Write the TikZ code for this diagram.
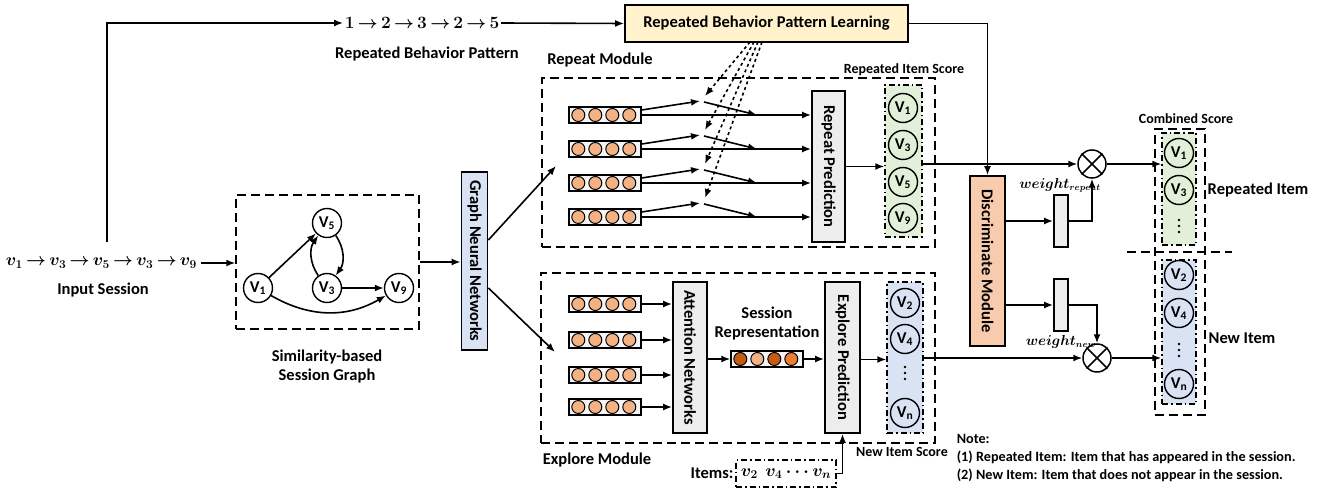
\documentclass[tikz,border=0pt]{standalone}
\usepackage{fontspec}
\setmainfont{Carlito}
\usepackage{amsmath}
\usepackage{graphicx}
\usetikzlibrary{arrows.meta}
\usetikzlibrary{calc}
\usetikzlibrary{positioning}

\definecolor{learnfill}{HTML}{FFF2CC}
\definecolor{gnnfill}{HTML}{DAE3F3}
\definecolor{discfill}{HTML}{F8CBAD}
\definecolor{predfill}{HTML}{EDEDED}
\definecolor{repfill}{HTML}{E2F0D9}
\definecolor{newfill}{HTML}{DAE3F3}
\definecolor{embfill}{HTML}{F4B183}
\definecolor{embdark}{HTML}{C55A11}
\definecolor{embmid}{HTML}{ED7D31}

% one embedding bar: name, x, y
\newcommand{\embbar}[3]{
  \node[embbox] (#1) at (#2,#3) {};
  \foreach \k in {1,...,4}{
    \node[embdot] (#1-\k) at ($(#1.west)+(17*\k-7,0)$) {};
  }
}
% vertical ellipsis inside a score column: name, x, y
\newcommand{\coldots}[3]{
  \foreach \k in {-1,0,1}{
    \node[dotmark] (#1-\k) at (#2,#3+6*\k) {};
  }
}
\newcommand{\vi}[1]{V\textsubscript{#1}}
\newcommand{\sto}{\,{\rightarrow}\,}

\begin{document}
\begin{tikzpicture}[x=1pt,y=-1pt,>={Latex[length=9pt,width=7pt]},
  line width=1.6pt,
  every node/.style={font=\bfseries\boldmath\fontsize{16.5}{19}\selectfont},
  small/.style={font=\bfseries\fontsize{14}{16}\selectfont},
  block/.style={draw, line width=1.8pt, inner sep=0pt},
  module/.style={draw, dash pattern=on 9pt off 5pt, line width=1.5pt, inner sep=0pt},
  column/.style={draw, dash pattern=on 6pt off 3pt on 1.5pt off 3pt, line width=1.5pt, inner sep=0pt},
  item/.style={circle, draw, line width=1.4pt, minimum size=29pt, inner sep=0pt},
  mul/.style={circle, draw, line width=1.5pt, minimum size=28pt, inner sep=0pt},
  dotmark/.style={circle, fill, minimum size=2.6pt, inner sep=0pt},
  embbox/.style={draw, fill=gray!8, line width=1.4pt, minimum width=72, minimum height=16, inner sep=0pt},
  embdot/.style={circle, draw, line width=1pt, fill=embfill, minimum size=13pt, inner sep=0pt}]

\useasboundingbox (0,0) rectangle (1317,489);

% input session and repeated pattern
\node[anchor=west, inner sep=0pt] (sess) at (5,263) {$v_1\sto v_3\sto v_5\sto v_3\sto v_9$};
\node (sesslbl) at (103,290) {Input Session};
\node[anchor=west, inner sep=1pt] (pat) at (343,23) {$1\sto 2\sto 3\sto 2\sto 5$};
\node (patlbl) at (427,54) {Repeated Behavior Pattern};
\node[block, fill=learnfill, minimum width=283, minimum height=37] (learn) at (766.5,23.5) {Repeated Behavior Pattern Learning};
\coordinate (sesstop) at (107,242);

\draw[->] (sesstop) |- (pat.west);
\draw[->] (pat.east) -- (learn.west);

% session graph
\node[module, minimum width=183, minimum height=134] (graphbox) at (327.5,262) {};
\node[item] (g1) at (258,288) {\vi{1}};
\node[item] (g5) at (327,223) {\vi{5}};
\node[item] (g3) at (327,288) {\vi{3}};
\node[item] (g9) at (399,288) {\vi{9}};
\draw[->] (g1) -- (g5);
\draw[->] (g3) to[bend left=35] (g5);
\draw[->] (g5) to[bend left=35] (g3);
\draw[->] (g3) -- (g9);
\draw[->] (g1) to[bend right=30] (g9);
\node[align=center] (graphlbl) at (327,366.5) {Similarity-based\\Session Graph};

\draw[->] ([xshift=3]sess.east) -- (sess.east -| graphbox.west);

% graph neural networks
\node[block, fill=gnnfill, minimum width=26, minimum height=178] (gnn) at (474.5,261) {\rotatebox{-90}{Graph Neural Networks}};
\draw[->] (graphbox.east) -- (graphbox.east -| gnn.west);
\coordinate (gA) at ($(gnn.east)+(0,-21)$);
\coordinate (gB) at ($(gnn.east)+(0,27)$);
\coordinate (repin) at (556,166);
\coordinate (expin) at (555,352);
\draw[->] (gA) -- (repin);
\draw[->] (gB) -- (expin);

% repeat module
\node[module, minimum width=393, minimum height=169] (repmod) at (738.5,162.5) {};
\node (replbl) at (600,60) {Repeat Module};
\node[small] (repscore) at (904,70) {Repeated Item Score};
\node[block, fill=predfill, minimum width=33, minimum height=151] (rpred) at (828.5,166.5) {\rotatebox{-90}{Repeat Prediction}};

\foreach \i/\y/\sx in {1/115/750,2/149/754,3/183/758,4/217/762}{
  \embbar{r\i}{605}{\y}
  \coordinate (rk\i) at (700,\y-14);
  \coordinate (rj\i) at (704,\y-13);
  \coordinate (rt\i) at (757,\y);
  \coordinate (rd\i) at (705,\y-19);
  \coordinate (rs\i) at (\sx,42);
  \draw[->] (r\i.east) -- (r\i.east -| rpred.west);
  \draw[->] ($(r\i.east)+(0,-5)$) -- (rk\i);
  \draw[->] (rj\i) -- (rt\i);
  \draw[->, dashed] (rs\i) -- (rd\i);
}

\node[column, fill=repfill, minimum width=37, minimum height=152] (rcol) at (903.5,161) {};
\node[item] (rv1) at (903,108) {\vi{1}};
\node[item] (rv3) at (903,145) {\vi{3}};
\node[item] (rv5) at (903,182) {\vi{5}};
\node[item] (rv9) at (903,218) {\vi{9}};
\draw[->] (rpred.east) -- (rpred.east -| rcol.west);

% explore module
\node[module, minimum width=394, minimum height=170] (expmod) at (738,358) {};
\node (explbl) at (597,460) {Explore Module};
\node[block, fill=predfill, minimum width=34, minimum height=151] (att) at (690,357.5) {\rotatebox{-90}{Attention Networks}};
\foreach \i/\y in {1/304,2/340,3/375,4/407}{
  \embbar{e\i}{605}{\y}
  \draw[->] (e\i.east) -- (e\i.east -| att.west);
}
\node[align=center] (reprlbl) at (767,323.5) {Session\\Representation};
\node[embbox] (sbar) at (767,359) {};
\foreach \k/\c in {1/embdark,2/embfill,3/embdark,4/embmid}{
  \node[embdot, fill=\c] (sbar-\k) at ($(sbar.west)+(17*\k-7,0)$) {};
}
\node[block, fill=predfill, minimum width=35, minimum height=151] (epred) at (842.5,357.5) {\rotatebox{-90}{Explore Prediction}};
\draw[->] (att.east |- sbar) -- (sbar.west);
\draw[->] (sbar.east) -- (sbar.east -| epred.west);

\node[column, fill=newfill, minimum width=36, minimum height=151] (ecol) at (905,357.5) {};
\node[item] (ev2) at (905,303) {\vi{2}};
\node[item] (ev4) at (905,339) {\vi{4}};
\coldots{edots}{905}{373}
\node[item] (evn) at (905,413) {\vi{n}};
\draw[->] ([yshift=-2]epred.east) -- ([yshift=-2]epred.east -| ecol.west);
\node[small] (newscore) at (902,452) {New Item Score};

\node[column, minimum width=100, minimum height=27] (items) at (786,473.5) {$v_2\ \ v_4\cdots v_n$};
\node[left=1pt of items, inner sep=0pt] (itemslbl) {Items:};
\draw[->] (items.east) -| (epred.south);

% discriminate and weighting
\node[block, fill=discfill, minimum width=35, minimum height=170] (disc) at (987.5,261) {\rotatebox{-90}{Discriminate Module}};
\draw[->] (learn.east) -| (disc.north);
\node[block, fill=predfill, minimum width=14, minimum height=52] (wbarR) at (1061,221) {};
\node[block, fill=predfill, minimum width=14, minimum height=52] (wbarN) at (1061,305) {};
\node[mul] (mulR) at (1092,164) {};
\node[mul] (mulN) at (1097,358) {};
\draw (mulR.north west) -- (mulR.south east) (mulR.north east) -- (mulR.south west);
\draw (mulN.north west) -- (mulN.south east) (mulN.north east) -- (mulN.south west);
\node[font=\boldmath\fontsize{13.5}{15}\selectfont] (wR) at (1060,185) {$weight_{repeat}$};
\node[font=\boldmath\fontsize{13.5}{15}\selectfont] (wN) at (1061,342) {$weight_{new}$};

\draw[->] (disc.east |- wbarR.west) -- (wbarR.west);
\draw[->] (disc.east |- wbarN.west) -- (wbarN.west);
\draw[->] (wbarR.east) -| (mulR.south);
\draw[->] (wbarN.east) -| (mulN.north);
\draw[->] (rcol.east |- mulR) -- (mulR.west);
\draw[->] (ecol.east |- mulN) -- (mulN.west);

% combined score
\node[module, minimum width=50, minimum height=286] (combbox) at (1180,272) {};
\node[small] (comblbl) at (1186,119) {Combined Score};
\node[column, fill=repfill, minimum width=34, minimum height=112] (ccolR) at (1179,189) {};
\node[column, fill=newfill, minimum width=34, minimum height=144] (ccolN) at (1179,332) {};
\node[item] (cv1) at (1179,153) {\vi{1}};
\node[item] (cv3) at (1179,190) {\vi{3}};
\coldots{cdotsR}{1179}{226}
\node[item] (cv2) at (1179,275) {\vi{2}};
\node[item] (cv4) at (1179,313) {\vi{4}};
\coldots{cdotsN}{1179}{350}
\node[item] (cvn) at (1179,384) {\vi{n}};
\draw[module] (1127,252) -- (1232,252);
\draw[->] (mulR.east) -- (mulR.east -| ccolR.west);
\draw[->] (mulN.east) -- (mulN.east -| ccolN.west);
\node (replbl2) at (1258,190) {Repeated Item};
\node (newlbl) at (1242,338) {New Item};

% note
\node[anchor=north west, align=left, inner sep=0pt, font=\bfseries\fontsize{14.2}{18}\selectfont] (note) at (956,433) {Note:\\(1) Repeated Item: Item that has appeared in the session.\\(2) New Item: Item that does not appear in the session.};

\end{tikzpicture}
\end{document}
